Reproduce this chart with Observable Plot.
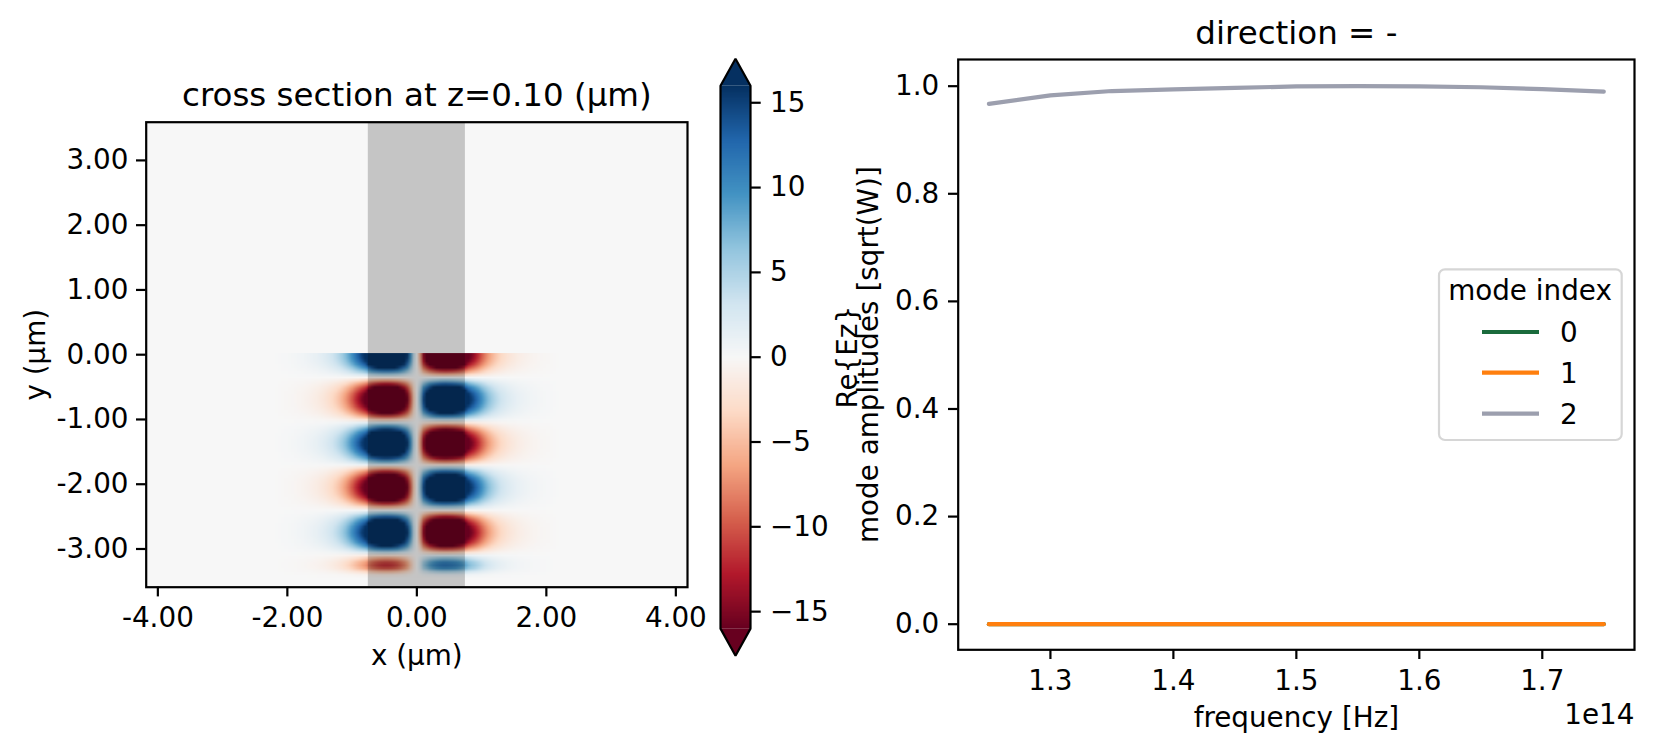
<!DOCTYPE html>
<html><head><meta charset="utf-8">
<script src="https://cdn.jsdelivr.net/npm/d3@7"></script>
<script src="https://cdn.jsdelivr.net/npm/@observablehq/plot@0.6"></script>
<style>
html,body{margin:0;padding:0;background:#fff;}
#page{position:relative;width:1653px;height:753px;overflow:hidden;font-family:'DejaVu Sans';}
.panel{position:absolute;top:0;}
.panel svg{overflow:visible;max-width:none;}
</style></head><body><div id="page"></div>
<script>
// ---------- left panel: field cross section ----------
const leftTitle = "cross section at z=0.10 (µm)";
const fieldXRange = [-2.2, 2.2];   // centres of first / last x sample (µm)
const fieldYRange = [0, -3.45];    // centres of first / last y sample (µm)
// field across x along a lobe row (Re{Ez} units)
const xProfile = [
  0, 0.05, 0.1, 0.15, 0.2, 0.25, 0.3, 0.4, 0.5, 0.6, 0.75, 0.9, 1.1, 1.3, 1.6, 1.9, 2.3, 2.8, 3.3, 4.0, 4.8, 5.8,
  7.0, 8.4, 10, 11.8, 13.5, 15.2, 17, 20, 23, 25, 26.5, 27.5, 28, 28, 27.5, 26.5, 25, 22.5, 19.5, 15.5, 10, 4,
  0,
  -6, -14, -18, -21.5, -24, -26, -27.5, -28.2, -28.5, -28, -27.5, -26.5, -25, -23, -20, -17, -15.2, -13.5, -11.8,
  -10, -8.4, -7.0, -5.8, -4.8, -4.0, -3.3, -2.8, -2.3, -1.9, -1.6, -1.3, -1.1, -0.9, -0.75, -0.6, -0.5, -0.4,
  -0.3, -0.25, -0.2, -0.15, -0.1, -0.05, 0
];
// relative field along y (top of the field region downwards)
const yProfile = [
  1.0, 0.97, 0.90, 0.78, 0.61, 0.42, 0.20, -0.02, -0.24, -0.46, -0.65, -0.80, -0.92, -0.98, -1.0, -0.96, -0.88,
  -0.75, -0.58, -0.38, -0.15, 0.11, 0.33, 0.53, 0.71, 0.85, 0.95, 1.0, 0.99, 0.93, 0.82, 0.68, 0.50, 0.29, 0.06,
  -0.20, -0.42, -0.61, -0.78, -0.90, -0.97, -1.0, -0.97, -0.90, -0.78, -0.61, -0.42, -0.20, 0.02, 0.24, 0.46,
  0.65, 0.80, 0.92, 0.98, 1.0, 0.96, 0.88, 0.75, 0.58, 0.38, 0.15, -0.08, -0.25, -0.38, -0.42, -0.36, -0.18,
  -0.04, 0
];
const waveguideX = [-0.75, 0.75];
const leftXDomain = [-4.18, 4.18];
const leftYDomain = [-3.59, 3.59];
const leftXTicks = [-4, -2, 0, 2, 4];
const leftYTicks = [-3, -2, -1, 0, 1, 2, 3];
const colorDomain = [-16, 16];
const colorTicks = [-15, -10, -5, 0, 5, 10, 15];
const colorLabel = "Re{Ez}";
// RdBu colour stops (low → high)
const rdbuStops = ["#67001f", "#b2182b", "#d6604d", "#f4a582", "#fddbc7", "#f7f7f7",
                   "#d1e5f0", "#92c5de", "#4393c3", "#2166ac", "#053061"];

// ---------- right panel: mode amplitudes ----------
const rightTitle = "direction = -";
const frequencies = [1.25e14, 1.30e14, 1.35e14, 1.40e14, 1.45e14, 1.50e14, 1.55e14, 1.60e14, 1.65e14, 1.70e14, 1.75e14];
const mode0 = [0, 0, 0, 0, 0, 0, 0, 0, 0, 0, 0];
const mode1 = [0, 0, 0, 0, 0, 0, 0, 0, 0, 0, 0];
const mode2 = [0.967, 0.983, 0.991, 0.994, 0.997, 0.9995, 1.0, 0.9995, 0.998, 0.9945, 0.990];
const modeIndex = ["0", "1", "2"];
const modeColors = ["#1a6b3c", "#ff7f0e", "#9c9fae"];
const freqTicks = [1.3e14, 1.4e14, 1.5e14, 1.6e14, 1.7e14];
const ampTicks = [0, 0.2, 0.4, 0.6, 0.8, 1.0];
const rightXDomain = [1.225e14, 1.775e14];
const rightYDomain = [-0.0476, 1.0496];

// ---------- build tables ----------
const nx = xProfile.length, ny = yProfile.length;
const sx = (fieldXRange[1] - fieldXRange[0]) / (nx - 1);
const sy = (fieldYRange[0] - fieldYRange[1]) / (ny - 1);
const fieldValues = [];
for (let j = 0; j < ny; j++) for (let i = 0; i < nx; i++) fieldValues.push(yProfile[j] * xProfile[i]);

const modeSeries = [mode0, mode1, mode2];
const lineData = modeSeries.flatMap((vals, m) => vals.map((v, k) => ({freq: frequencies[k], amp: v, mode: modeIndex[m]})));

const stopDomain = rdbuStops.map((_, i) => colorDomain[0] + i * (colorDomain[1] - colorDomain[0]) / (rdbuStops.length - 1));
const FS = 27.8, TFS = 32.5, TICK = 9.7, LW = 2.2;
const FONT = `font: ${FS}px 'DejaVu Sans'; background: transparent; overflow: visible;`;
const colorScale = {type: "linear", domain: stopDomain, range: rdbuStops, interpolate: "rgb", clamp: true};
const zeroColor = rdbuStops[(rdbuStops.length - 1) / 2];
const page = document.getElementById("page");
function place(node, left, width) {
  const d = document.createElement("div");
  d.className = "panel"; d.style.left = left + "px"; d.style.width = width + "px";
  d.appendChild(node); page.appendChild(d);
}

// left heatmap
const leftPlot = Plot.plot({
  width: 720, height: 753,
  marginLeft: 145.7, marginRight: 33, marginTop: 121.7, marginBottom: 166.3,
  style: FONT,
  x: {domain: leftXDomain},
  y: {domain: leftYDomain},
  color: colorScale,
  marks: [
    Plot.frame({fill: zeroColor}),
    Plot.raster(fieldValues, {
      width: nx, height: ny,
      x1: fieldXRange[0] - sx / 2, x2: fieldXRange[1] + sx / 2,
      y1: fieldYRange[0] + sy / 2, y2: fieldYRange[1] - sy / 2,
      fill: d => d, imageRendering: "auto"
    }),
    Plot.rect([{x1: waveguideX[0], x2: waveguideX[1]}], {x1: "x1", x2: "x2", fill: "black", fillOpacity: 0.2}),
    Plot.frame({stroke: "black", strokeWidth: LW}),
    Plot.axisX({ticks: leftXTicks, tickFormat: d => d.toFixed(2), tickSize: TICK, tickPadding: 10.6, strokeWidth: LW, label: null}),
    Plot.axisY({ticks: leftYTicks, tickFormat: d => d.toFixed(2), tickSize: TICK, tickPadding: 8, strokeWidth: LW, label: null}),
    Plot.text([leftTitle], {frameAnchor: "top", dy: -16, textAnchor: "middle", lineAnchor: "bottom", fontSize: TFS}),
    Plot.text(["x (µm)"], {frameAnchor: "bottom", dy: 77.3, textAnchor: "middle", lineAnchor: "bottom"}),
    Plot.text(["y (µm)"], {frameAnchor: "left", dx: -101.7, rotate: -90, textAnchor: "middle", lineAnchor: "bottom"})
  ]
});
place(leftPlot, 0, 720);

// colorbar
const ext = 0.05 * (colorDomain[1] - colorDomain[0]);
const topTri = [{x: 0, y: colorDomain[1]}, {x: 0.5, y: colorDomain[1] + ext}, {x: 1, y: colorDomain[1]}];
const botTri = [{x: 0, y: colorDomain[0]}, {x: 0.5, y: colorDomain[0] - ext}, {x: 1, y: colorDomain[0]}];
const outline = [
  {x: 0, y: colorDomain[0]}, {x: 0, y: colorDomain[1]}, {x: 0.5, y: colorDomain[1] + ext}, {x: 1, y: colorDomain[1]},
  {x: 1, y: colorDomain[0]}, {x: 0.5, y: colorDomain[0] - ext}, {x: 0, y: colorDomain[0]}
];
const cbPlot = Plot.plot({
  width: 300, height: 753,
  marginLeft: 120, marginRight: 150, marginTop: 85.3, marginBottom: 124.9,
  style: FONT,
  x: {domain: [0, 1], axis: null},
  y: {domain: colorDomain},
  color: colorScale,
  marks: [
    Plot.raster({fill: (x, y) => y, x1: 0, x2: 1, y1: colorDomain[0], y2: colorDomain[1], width: 2, height: 320, imageRendering: "auto"}),
    Plot.line(topTri, {x: "x", y: "y", fill: rdbuStops[rdbuStops.length - 1], stroke: "none"}),
    Plot.line(botTri, {x: "x", y: "y", fill: rdbuStops[0], stroke: "none"}),
    Plot.line(outline, {x: "x", y: "y", stroke: "black", strokeWidth: LW, strokeLinejoin: "miter"}),
    Plot.axisY({anchor: "right", ticks: colorTicks, tickFormat: d => d < 0 ? "\u2212" + (-d) : String(d),
      tickSize: TICK, tickPadding: 9.8, strokeWidth: LW, label: null}),
    Plot.text([colorLabel], {frameAnchor: "right", dx: 106.7, rotate: -90, textAnchor: "middle", lineAnchor: "bottom"})
  ]
});
place(cbPlot, 600, 300);

// right line chart
const rightPlot = Plot.plot({
  width: 853, height: 753,
  marginLeft: 157.7, marginRight: 19, marginTop: 59, marginBottom: 103.7,
  style: FONT,
  x: {domain: rightXDomain},
  y: {domain: rightYDomain},
  color: {domain: modeIndex, range: modeColors},
  marks: [
    Plot.line(lineData, {x: "freq", y: "amp", stroke: "mode", strokeWidth: 4.2}),
    Plot.frame({stroke: "black", strokeWidth: LW}),
    Plot.axisX({ticks: freqTicks, tickFormat: d => (d / 1e14).toFixed(1), tickSize: TICK, tickPadding: 10.6, strokeWidth: LW, label: null}),
    Plot.axisY({ticks: ampTicks, tickFormat: d => d.toFixed(1), tickSize: TICK, tickPadding: 9.3, strokeWidth: LW, label: null}),
    Plot.text([rightTitle], {frameAnchor: "top", dy: -16, textAnchor: "middle", lineAnchor: "bottom", fontSize: TFS}),
    Plot.text(["frequency [Hz]"], {frameAnchor: "bottom", dy: 77.4, textAnchor: "middle", lineAnchor: "bottom"}),
    Plot.text(["1e14"], {frameAnchor: "bottom-right", dy: 74, textAnchor: "end", lineAnchor: "bottom"}),
    Plot.text(["mode amplitudes [sqrt(W)]"], {frameAnchor: "left", dx: -80.7, rotate: -90, textAnchor: "middle", lineAnchor: "bottom"})
  ]
});
place(rightPlot, 800, 853);

// legend
const leg = d3.create("svg").attr("width", 1653).attr("height", 753)
  .style("position", "absolute").style("left", "0px").style("top", "0px")
  .style("font", `${FS}px 'DejaVu Sans'`).style("pointer-events", "none");
leg.append("rect").attr("x", 1439).attr("y", 269.3).attr("width", 182.7).attr("height", 170.7).attr("rx", 6)
  .attr("fill", "white").attr("fill-opacity", 0.8).attr("stroke", "#d6d6d6").attr("stroke-width", LW);
leg.append("text").attr("x", 1530).attr("y", 300).attr("text-anchor", "middle").text("mode index");
const rowY = [332, 372.7, 413.7];
modeIndex.forEach((m, i) => {
  leg.append("line").attr("x1", 1482).attr("x2", 1539).attr("y1", rowY[i]).attr("y2", rowY[i])
    .attr("stroke", modeColors[i]).attr("stroke-width", 4.2);
  leg.append("text").attr("x", 1560).attr("y", rowY[i] + 10.1).text(m);
});
page.appendChild(leg.node());
</script></body></html>
